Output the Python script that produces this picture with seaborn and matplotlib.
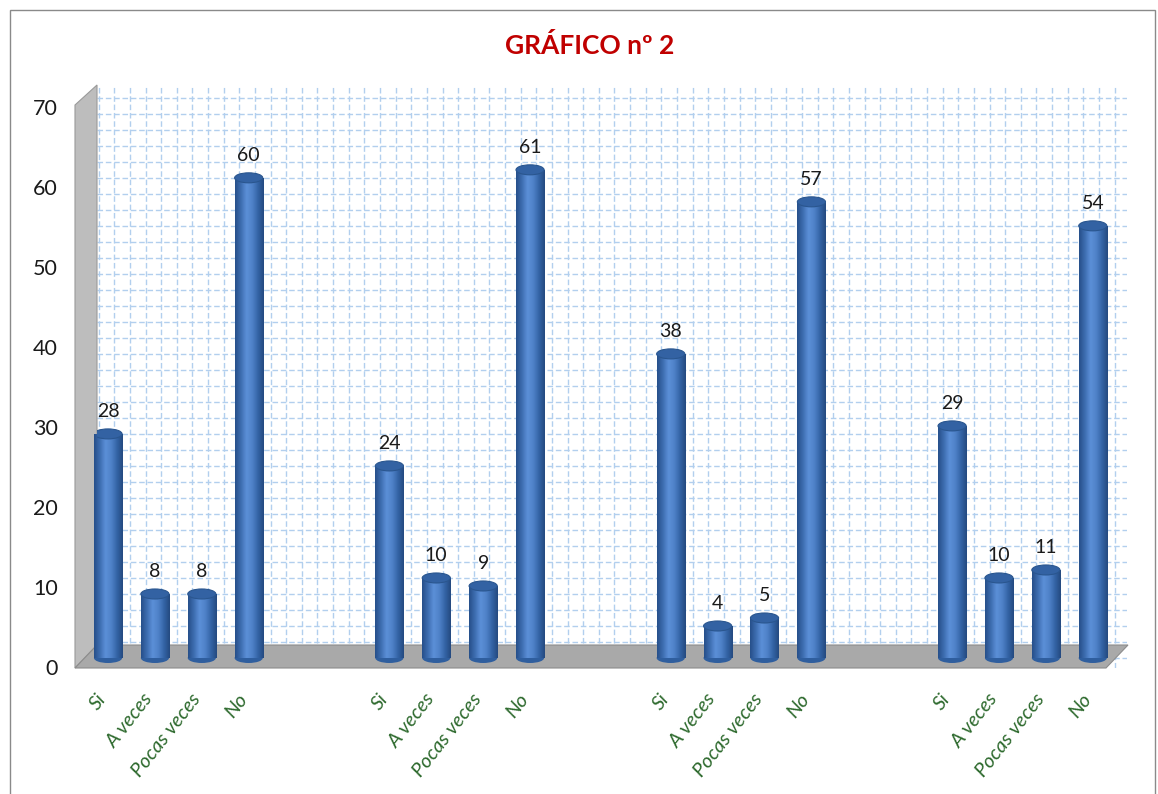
import numpy as np
import pandas as pd
import seaborn as sns
import matplotlib.pyplot as plt
import matplotlib.transforms as mtransforms
from matplotlib.patches import Ellipse, Polygon, Rectangle
from matplotlib.colors import LinearSegmentedColormap

# datos del gráfico
categorias = ['Si', 'A veces', 'Pocas veces', 'No']
grupo1 = [28, 8, 8, 60]
grupo2 = [24, 10, 9, 61]
grupo3 = [38, 4, 5, 57]
grupo4 = [29, 10, 11, 54]
grupos = [grupo1, grupo2, grupo3, grupo4]
titulo = 'GRÁFICO nº 2'

# posiciones: 4 barras por grupo y un hueco de 2 entre grupos
filas = []
for g, valores in enumerate(grupos):
    for i, (cat, v) in enumerate(zip(categorias, valores)):
        filas.append({'pos': 6 * g + i, 'valor': v, 'categoria': cat})
df = pd.DataFrame(filas)

sns.set_style('white')
plt.rcParams['font.family'] = ['Lato', 'DejaVu Sans']

W, H = 1158, 794
fig = plt.figure(figsize=(W / 100, H / 100), dpi=100)

def px(x, y):
    return (x / W, 1 - y / H)

ax = fig.add_axes([97 / W, 1 - 668 / H, (1127 - 97) / W, (668 - 85) / H])

sns.barplot(data=df, x='pos', y='valor', native_scale=True, color='#4A7EC4',
            width=0.6, errorbar=None, ax=ax, zorder=3)
ax.set_xlabel('')
ax.set_ylabel('')

# sombreado cilíndrico
cmap = LinearSegmentedColormap.from_list(
    'cil', ['#264F8A', '#3D6DB0', '#5C90D8', '#4F82C8', '#3464A6', '#244A80'])
grad = np.linspace(0, 1, 64).reshape(1, -1)
cap_h = 1.25
bars = list(ax.patches)
for p in bars:
    x0, w, h = p.get_x(), p.get_width(), p.get_height()
    cx = x0 + w / 2
    p.set_edgecolor('none')
    im = ax.imshow(grad, cmap=cmap, aspect='auto', extent=[x0, x0 + w, 0, h],
                   zorder=3.1, interpolation='bicubic')
    im.set_clip_path(p)
    ax.add_patch(Ellipse((cx, 0), w, cap_h, facecolor='#2F5E9E',
                         edgecolor='none', zorder=2.9, clip_on=False))
    ax.add_patch(Ellipse((cx, h), w, cap_h, facecolor='#3362A3',
                         edgecolor='#2A568F', lw=0.8, zorder=3.3))
    ax.annotate(f'{h:.0f}', (cx, h), xytext=(0, 16), textcoords='offset points',
                ha='center', va='center', fontsize=14, color='#1A1A1A', zorder=5)

ax.set_xlim(-0.235, 21.73)
ax.set_ylim(-1.25, 71.6)

# rejilla de la pared
ax.set_yticks(range(0, 71, 10))
ax.set_yticks(np.arange(0, 72, 2), minor=True)
ax.set_xticks(df['pos'])
ax.set_xticklabels(df['categoria'])
ax.set_xticks(np.arange(-0.2, 21.8, 1 / 3), minor=True)
ax.set_axisbelow(True)
ax.grid(True, which='both', axis='y', color='#B2CFEE', ls=(0, (4, 2)), lw=1)
ax.grid(True, which='minor', axis='x', color='#B2CFEE', ls=(0, (4, 2)), lw=1)
ax.tick_params(which='both', length=0)
for s in ax.spines.values():
    s.set_visible(False)

# etiquetas de ejes
ax.tick_params(axis='y', pad=28, labelsize=15.5, labelcolor='#1A1A1A')
off_y = mtransforms.ScaledTranslation(0, -9 / 100, fig.dpi_scale_trans)
for lab in ax.get_yticklabels():
    lab.set_transform(lab.get_transform() + off_y)

ax.tick_params(axis='x', pad=20, labelsize=14.5, labelcolor='#2E6A2E')
off_x = mtransforms.ScaledTranslation(-5 / 100, 0, fig.dpi_scale_trans)
for lab in ax.get_xticklabels():
    lab.set_rotation(52)
    lab.set_ha('right')
    lab.set_va('center')
    lab.set_rotation_mode('anchor')
    lab.set_style('italic')
    lab.set_transform(lab.get_transform() + off_x)

# pared lateral y suelo en 3D
ax.add_patch(Polygon([px(75, 105), px(97, 85), px(97, 645), px(75, 668)],
                     closed=True, transform=fig.transFigure, facecolor='#BDBDBD',
                     edgecolor='#9A9A9A', lw=0.8, zorder=1, clip_on=False))
ax.add_patch(Polygon([px(75, 668), px(97, 645), px(1128, 645), px(1106, 668)],
                     closed=True, transform=fig.transFigure, facecolor='#A9A9A9',
                     edgecolor='#8C8C8C', lw=0.8, zorder=1, clip_on=False))

fig.text(590 / W, 1 - 45 / H, titulo, ha='center', va='center', fontsize=19,
         fontweight='bold', color='#C00000')

# marco de la imagen
fig.patches.append(Rectangle(px(10, 800), (1155 - 10) / W, (800 - 10) / H,
                             transform=fig.transFigure, fill=False,
                             edgecolor='#8A8A8A', lw=1))

fig.savefig('out.png', dpi=100)
